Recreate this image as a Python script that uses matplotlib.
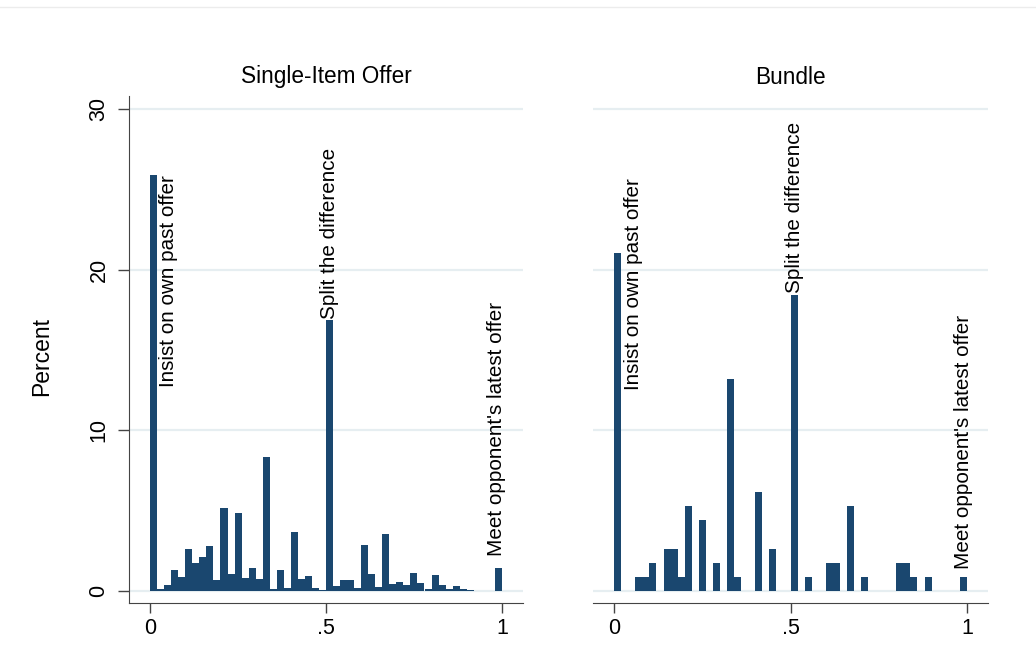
import matplotlib
matplotlib.use("Agg")
import matplotlib.pyplot as plt
from matplotlib.lines import Line2D

plt.rcParams['font.family'] = ['Liberation Sans', 'DejaVu Sans']

# ---- data ----
bin_width = 0.02
bin_lefts = [round(i * bin_width, 2) for i in range(50)]

single_item = [25.9, 0.1, 0.37, 1.29, 0.87, 2.59, 1.72, 2.1, 2.78, 0.66,
               5.14, 1.04, 4.83, 0.79, 1.41, 0.73, 8.32, 0.1, 1.29, 0.17,
               3.65, 0.73, 0.91, 0.17, 0.06, 16.86, 0.29, 0.66, 0.66, 0.17,
               2.84, 1.04, 0.23, 3.53, 0.41, 0.54, 0.35, 1.1, 0.48, 0.1,
               0.97, 0.35, 0.1, 0.29, 0.1, 0.06, 0.0, 0.0, 0.0, 1.41]

bundle = [21.05, 0.0, 0.0, 0.88, 0.88, 1.75, 0.0, 2.63, 2.63, 0.88,
          5.26, 0.0, 4.39, 0.0, 1.75, 0.0, 13.16, 0.88, 0.0, 0.0,
          6.14, 0.0, 2.63, 0.0, 0.0, 18.42, 0.0, 0.88, 0.0, 0.0,
          1.75, 1.75, 0.0, 5.26, 0.0, 0.88, 0.0, 0.0, 0.0, 0.0,
          1.75, 1.75, 0.88, 0.0, 0.88, 0.0, 0.0, 0.0, 0.0, 0.88]

panel_titles = ["Single-Item Offer", "Bundle"]
y_ticks = [0, 10, 20, 30]
x_ticks = [0, 0.5, 1]
x_ticklabels = ["0", ".5", "1"]
labels = ["Insist on own past offer", "Split the difference", "Meet opponent's latest offer"]

# ---- style ----
bar_color = "#1a476f"
grid_color = "#e6eef1"
axis_color = "#444444"

W, H = 1036, 663
fig = plt.figure(figsize=(W / 100, H / 100), dpi=100)
fig.patch.set_facecolor("white")

# faint frame line at top
fig.add_artist(Line2D([0, 1], [1 - 7 / H, 1 - 7 / H], color="#ececec", lw=1,
                      transform=fig.transFigure))

ax_l = fig.add_axes([129 / W, 1 - 603 / H, 394 / W, 507 / H])
ax_r = fig.add_axes([593 / W, 1 - 603 / H, 395 / W, 507 / H])

# label positions (x, y, va) per panel
label_pos = {
    0: [(0.052, 19.3, "center"), (0.51, 16.95, "bottom"), (0.985, 2.2, "bottom")],
    1: [(0.054, 19.1, "center"), (0.511, 18.55, "bottom"), (0.991, 1.35, "bottom")],
}

for i, (ax, vals, title) in enumerate(zip([ax_l, ax_r], [single_item, bundle], panel_titles)):
    for yt in y_ticks:
        ax.axhline(yt, color=grid_color, lw=1.6, zorder=0)
    ax.bar(bin_lefts, vals, width=bin_width, align="edge", color=bar_color,
           linewidth=0, zorder=2)
    ax.set_xlim(-0.06, 1.06)
    ax.set_ylim(-0.75, 30.8)
    ax.set_title(title, fontsize=16.3, pad=9)
    for s in ["top", "right"]:
        ax.spines[s].set_visible(False)
    ax.spines["bottom"].set_color(axis_color)
    ax.spines["left"].set_color(axis_color)
    ax.set_xticks(x_ticks)
    ax.set_xticklabels(x_ticklabels)
    ax.tick_params(axis="x", length=7, width=1, color=axis_color, labelsize=15.5, pad=4)
    ax.set_facecolor("white")
    for (tx, ty, va), txt in zip(label_pos[i], labels):
        ax.text(tx, ty, txt, rotation=90, ha="center", va=va, fontsize=14.9, zorder=3)

ax_l.set_yticks(y_ticks)
ax_l.set_yticklabels([str(t) for t in y_ticks], rotation=90, va="center")
ax_l.tick_params(axis="y", length=8, width=1, color=axis_color, labelsize=15.5, pad=6)

ax_r.spines["left"].set_visible(False)
ax_r.set_yticks([])

fig.text(42 / W, 1 - 356 / H, "Percent", rotation=90, ha="center", va="center", fontsize=16.5)

fig.savefig("out.png", dpi=100, facecolor="white")
